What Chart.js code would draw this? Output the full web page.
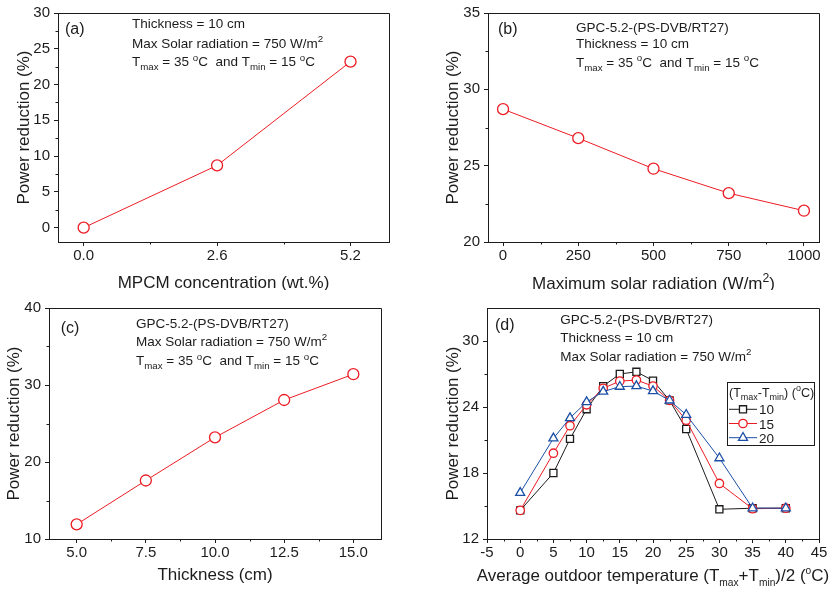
<!DOCTYPE html>
<html>
<head>
<meta charset="utf-8">
<script src="https://cdn.jsdelivr.net/npm/chart.js@4.4.1/dist/chart.umd.min.js"></script>
<style>
  body { margin: 0; background: #fff; }
  #fig { position: relative; width: 831px; height: 590px; }
  #fig canvas { position: absolute; }
</style>
</head>
<body>
<div id="fig">
  <canvas id="chartA" width="415" height="290" style="left:0;top:0"></canvas>
  <canvas id="chartB" width="416" height="290" style="left:415px;top:0"></canvas>
  <canvas id="chartC" width="415" height="300" style="left:0;top:290px"></canvas>
  <canvas id="chartD" width="416" height="300" style="left:415px;top:290px"></canvas>
</div>
<script>
const FONT = "'Liberation Sans', Arial, sans-serif";
const INK = '#1c1c1c';
const RED = '#ec1c24';
const BLUE = '#1c4fa6';

// (a) power reduction vs MPCM concentration
const mpcmConc = [0, 2.6, 5.2];
const reductionA = [0, 8.7, 23.2];

// (b) power reduction vs max solar radiation
const solarRad = [0, 250, 500, 750, 1000];
const reductionB = [28.7, 26.8, 24.8, 23.2, 22.05];

// (c) power reduction vs thickness
const thickness = [5, 7.5, 10, 12.5, 15];
const reductionC = [11.9, 17.6, 23.2, 28.05, 31.4];

// (d) power reduction vs average outdoor temperature, 3 temperature ranges
const avgTemp = [0, 5, 7.5, 10, 12.5, 15, 17.5, 20, 22.5, 25, 30, 35, 40];
const reductionD10 = [14.6, 18.0, 21.1, 23.8, 25.9, 27.0, 27.2, 26.4, 24.6, 22.0, 14.7, 14.8, 14.8];
const reductionD15 = [14.6, 19.8, 22.3, 24.2, 25.7, 26.35, 26.45, 25.9, 24.6, 22.8, 17.05, 14.75, 14.8];
const reductionD20 = [16.2, 21.15, 23.0, 24.45, 25.4, 25.85, 25.9, 25.45, 24.6, 23.3, 19.35, 14.8, 14.8];
const rangeLabels = ['10', '15', '20'];

// tick values (major / minor)
const xTicksA = [0, 2.6, 5.2], xMinorA = [1.3, 3.9];
const yTicksA = [0, 5, 10, 15, 20, 25, 30], yMinorA = [2.5, 7.5, 12.5, 17.5, 22.5, 27.5];
const xTicksB = [0, 250, 500, 750, 1000], xMinorB = [125, 375, 625, 875];
const yTicksB = [20, 25, 30, 35], yMinorB = [22.5, 27.5, 32.5];
const xTicksC = [5, 7.5, 10, 12.5, 15], xMinorC = [6.25, 8.75, 11.25, 13.75];
const yTicksC = [10, 20, 30, 40], yMinorC = [15, 25, 35];
const xTicksD = [-5, 0, 5, 10, 15, 20, 25, 30, 35, 40, 45];
const xMinorD = [-2.5, 2.5, 7.5, 12.5, 17.5, 22.5, 27.5, 32.5, 37.5, 42.5];
const yTicksD = [12, 18, 24, 30], yMinorD = [15, 21, 27];

// text pieces: [text, ''|'sub'|'sup']
const tRange = [['T', ''], ['max', 'sub'], [' = 35 ', ''], ['o', 'sup'], ['C  and T', ''], ['min', 'sub'], [' = 15 ', ''], ['o', 'sup'], ['C', '']];
const solarLine = [['Max Solar radiation = 750 W/m', ''], ['2', 'sup']];

function drawRich(ctx, x, y, parts, size, align, smallK) {
  const small = size * (smallK || 0.72);
  let total = 0;
  const widths = parts.map(([t, k]) => {
    ctx.font = (k ? small : size) + 'px ' + FONT;
    const w = ctx.measureText(t).width;
    total += w;
    return w;
  });
  let cx = align === 'center' ? x - total / 2 : x;
  ctx.textAlign = 'left';
  ctx.textBaseline = 'alphabetic';
  parts.forEach(([t, k], i) => {
    ctx.font = (k ? small : size) + 'px ' + FONT;
    const dy = k === 'sub' ? size * 0.3 : k === 'sup' ? -size * 0.42 : 0;
    ctx.fillText(t, cx, y + dy);
    cx += widths[i];
  });
}

function series(xs, ys, color, style, r, order) {
  return {
    data: xs.map((x, i) => ({ x: x, y: ys[i] })),
    showLine: true,
    borderColor: color,
    borderWidth: 1,
    pointStyle: style,
    pointRadius: r,
    pointBorderWidth: 1.3,
    pointBorderColor: color,
    pointBackgroundColor: '#fff',
    order: order || 0
  };
}

function axis(a, dir, size) {
  return {
    type: 'linear',
    min: a.min,
    max: a.max,
    afterBuildTicks: s => { s.ticks = a.ticks.map(v => ({ value: v })); },
    afterFit: s => { if (dir === 'x') s.height = size; else s.width = size; },
    grid: { drawOnChartArea: false, drawTicks: true, tickLength: 4, color: INK, lineWidth: 1 },
    border: { display: true, color: INK, width: 1 },
    ticks: {
      autoSkip: false,
      maxRotation: 0,
      padding: dir === 'x' ? 1 : 4,
      color: INK,
      font: { family: FONT, size: 15 },
      callback: v => v.toFixed(a.dec)
    }
  };
}

function drawLegend(chart, L) {
  const { ctx, chartArea: a } = chart;
  const bx = Math.round(a.right - L.right - L.w), by = Math.round(a.top + L.top);
  ctx.fillStyle = '#fff';
  ctx.fillRect(bx, by, L.w, L.h);
  ctx.strokeStyle = INK;
  ctx.lineWidth = 1;
  ctx.strokeRect(bx + 0.5, by + 0.5, L.w, L.h);
  ctx.fillStyle = INK;
  drawRich(ctx, bx + 2, by + 14.5, L.title, 12.5);
  chart.data.datasets.forEach((ds, i) => {
    const yy = by + L.row0 + i * L.rowGap;
    ctx.strokeStyle = ds.borderColor;
    ctx.lineWidth = 1;
    ctx.beginPath();
    ctx.moveTo(bx + 2, yy);
    ctx.lineTo(bx + 30, yy);
    ctx.stroke();
    ctx.fillStyle = '#fff';
    ctx.lineWidth = ds.pointBorderWidth;
    Chart.helpers.drawPoint(ctx, { pointStyle: ds.pointStyle, radius: ds.pointRadius, rotation: 0, borderWidth: ds.pointBorderWidth }, bx + 16, yy);
    ctx.fillStyle = INK;
    drawRich(ctx, bx + 32, yy + 5, [[rangeLabels[i], '']], 13.5);
  });
}

function deco(o) {
  return {
    id: 'deco',
    beforeDatasetsDraw(chart) {
      const { ctx, chartArea: a, scales: { x, y } } = chart;
      ctx.save();
      ctx.strokeStyle = INK;
      ctx.lineWidth = 1;
      const r = Math.round(a.right) + 0.5, t = Math.round(a.top) + 0.5;
      ctx.beginPath();
      ctx.moveTo(Math.round(a.left), t);
      ctx.lineTo(r, t);
      ctx.lineTo(r, Math.round(a.bottom));
      ctx.stroke();
      ctx.beginPath();
      o.x.minor.forEach(v => {
        const px = Math.round(x.getPixelForValue(v)) + 0.5;
        ctx.moveTo(px, a.bottom);
        ctx.lineTo(px, a.bottom + 2.5);
      });
      o.y.minor.forEach(v => {
        const py = Math.round(y.getPixelForValue(v)) + 0.5;
        ctx.moveTo(a.left, py);
        ctx.lineTo(a.left - 2.5, py);
      });
      ctx.stroke();
      ctx.restore();
    },
    afterDraw(chart) {
      const { ctx, chartArea: a } = chart;
      ctx.save();
      ctx.fillStyle = INK;
      drawRich(ctx, a.left + o.tag[0], a.top + o.tag[1], [[o.tag[2], '']], 16);
      o.notes.forEach(n => drawRich(ctx, a.left + o.noteX, a.top + n[0], n[1], 13.5));
      drawRich(ctx, (a.left + a.right) / 2, a.bottom + o.xTitleY, o.xTitle, 17, 'center', o.subK);
      ctx.save();
      ctx.translate(o.yTitleX, (a.top + a.bottom) / 2);
      ctx.rotate(-Math.PI / 2);
      drawRich(ctx, 0, 0, [['Power reduction (%)', '']], 17, 'center');
      ctx.restore();
      if (o.legend) drawLegend(chart, o.legend);
      ctx.restore();
    }
  };
}

function panel(id, o) {
  return new Chart(document.getElementById(id), {
    type: 'scatter',
    data: { datasets: o.datasets },
    options: {
      responsive: false,
      animation: false,
      events: [],
      layout: { padding: { top: o.area.top, right: o.area.right, left: 0, bottom: 0 } },
      plugins: { legend: { display: false }, tooltip: { enabled: false } },
      scales: {
        x: axis(o.x, 'x', o.area.bottom),
        y: axis(o.y, 'y', o.area.left)
      }
    },
    plugins: [deco(o)]
  });
}

panel('chartA', {
  area: { top: 11, right: 26, left: 58, bottom: 48 },
  x: { min: -0.5, max: 5.95, ticks: xTicksA, minor: xMinorA, dec: 1 },
  y: { min: -2, max: 30, ticks: yTicksA, minor: yMinorA, dec: 0 },
  datasets: [series(mpcmConc, reductionA, RED, 'circle', 5.5)],
  tag: [7, 20.5, '(a)'],
  noteX: 74,
  notes: [[15, [['Thickness = 10 cm', '']]], [34.5, solarLine], [53.3, tRange]],
  xTitle: [['MPCM concentration (wt.%)', '']],
  xTitleY: 45.7,
  yTitleX: 29
});

panel('chartB', {
  area: { top: 11, right: 12, left: 73, bottom: 48 },
  x: { min: -50, max: 1050, ticks: xTicksB, minor: xMinorB, dec: 0 },
  y: { min: 20, max: 35, ticks: yTicksB, minor: yMinorB, dec: 0 },
  datasets: [series(solarRad, reductionB, RED, 'circle', 5.5)],
  tag: [10, 20.5, '(b)'],
  noteX: 88,
  notes: [[19, [['GPC-5.2-(PS-DVB/RT27)', '']]], [34.7, [['Thickness = 10 cm', '']]], [54, tRange]],
  xTitle: [['Maximum solar radiation (W/m', ''], ['2', 'sup'], [')', '']],
  xTitleY: 47.2,
  yTitleX: 42.5
});

panel('chartC', {
  area: { top: 18, right: 34, left: 49, bottom: 51 },
  x: { min: 4, max: 16, ticks: xTicksC, minor: xMinorC, dec: 1 },
  y: { min: 10, max: 40, ticks: yTicksC, minor: yMinorC, dec: 0 },
  datasets: [series(thickness, reductionC, RED, 'circle', 5.5)],
  tag: [11.7, 25.3, '(c)'],
  noteX: 87,
  notes: [[19.7, [['GPC-5.2-(PS-DVB/RT27)', '']]], [38, solarLine], [57.3, tRange]],
  xTitle: [['Thickness (cm)', '']],
  xTitleY: 41,
  yTitleX: 19
});

panel('chartD', {
  area: { top: 18, right: 12, left: 72, bottom: 51 },
  x: { min: -5, max: 45, ticks: xTicksD, minor: xMinorD, dec: 0 },
  y: { min: 12, max: 33, ticks: yTicksD, minor: yMinorD, dec: 0 },
  datasets: [
    series(avgTemp, reductionD10, INK, 'rect', 5, 3),
    series(avgTemp, reductionD15, RED, 'circle', 4.2, 2),
    series(avgTemp, reductionD20, BLUE, 'triangle', 5.2, 1)
  ],
  tag: [8, 22, '(d)'],
  noteX: 73.3,
  notes: [[16.3, [['GPC-5.2-(PS-DVB/RT27)', '']]], [34.3, [['Thickness = 10 cm', '']]], [53, solarLine]],
  xTitle: [['Average outdoor temperature (T', ''], ['max', 'sub'], ['+T', ''], ['min', 'sub'], [')/2 (', ''], ['o', 'sup'], ['C)', '']],
  subK: 0.6,
  xTitleY: 42,
  yTitleX: 42.5,
  legend: {
    right: 5, w: 87, top: 74, h: 63, row0: 27.3, rowGap: 14.2,
    title: [['(T', ''], ['max', 'sub'], ['-T', ''], ['min', 'sub'], [') (', ''], ['o', 'sup'], ['C)', '']]
  }
});
</script>
</body>
</html>
